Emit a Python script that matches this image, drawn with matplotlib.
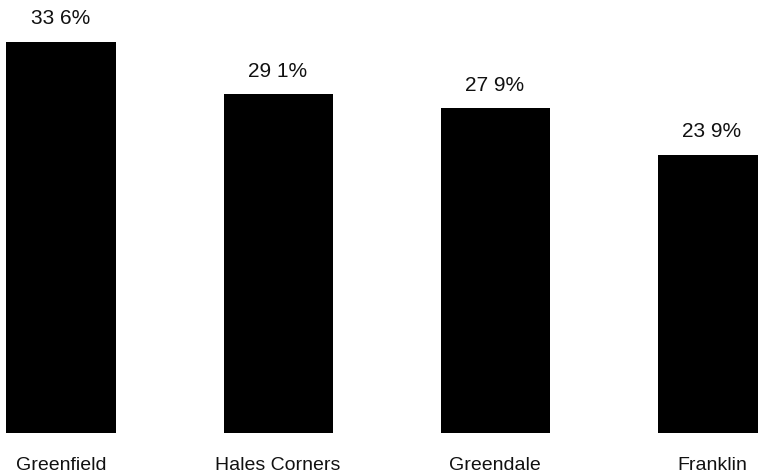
import matplotlib
matplotlib.use("Agg")
import matplotlib.pyplot as plt

categories = ["Greenfield", "Hales Corners", "Greendale", "Franklin"]
values = [33.6, 29.1, 27.9, 23.9]
value_labels = ["33 6%", "29 1%", "27 9%", "23 9%"]

W, H, DPI = 758, 474, 100
fig = plt.figure(figsize=(W / DPI, H / DPI), dpi=DPI)
ax = fig.add_axes([0, 0, 1, 1])

spacing = 217.0
c0 = 61.0
base_px = 41.0
scale = 391.0 / 33.6

x = list(range(len(categories)))
ax.bar(x, values, width=109 / spacing, color="black", edgecolor="none")
ax.set_xlim(-c0 / spacing, (W - c0) / spacing)
ax.set_ylim(-base_px / scale, (H - base_px) / scale)
ax.axis("off")

pt = 72.0 / DPI
for xi, v, lab in zip(x, values, value_labels):
    ax.annotate(lab, (xi, v), xytext=(0, 23 * pt), textcoords="offset points",
                ha="center", va="center", fontsize=15, family="Liberation Sans",
                color="#111111")
for xi, cat in zip(x, categories):
    ax.annotate(cat, (xi, 0), xytext=(0, -33 * pt), textcoords="offset points",
                ha="center", va="center", fontsize=14, family="Liberation Sans",
                color="#111111")

fig.savefig("out.png", dpi=DPI)
